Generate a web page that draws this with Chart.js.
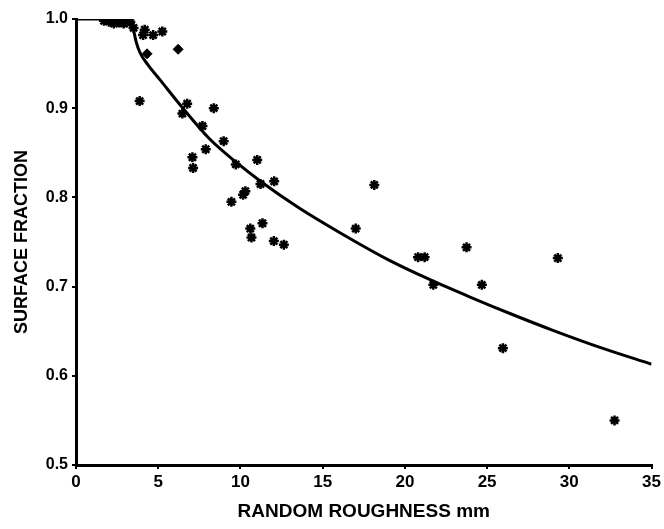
<!DOCTYPE html>
<html>
<head>
<meta charset="utf-8">
<script src="https://cdn.jsdelivr.net/npm/chart.js@4/dist/chart.umd.min.js"></script>
<style>
  html, body { margin: 0; padding: 0; background: #fff; }
  #wrap { width: 664px; height: 529px; }
</style>
</head>
<body>
<div id="wrap"><canvas id="c" width="664" height="529"></canvas></div>
<script>
// fitted curve
const curveX = [0, 3.35, 3.5, 3.65, 3.9, 4.4, 5.1, 6.5, 8.1, 9.7, 11.3, 13.5, 16, 19, 21.5, 24, 26.5, 29, 32, 35];
const curveY = [1.0, 1.0, 0.988, 0.975, 0.962, 0.948, 0.932, 0.9, 0.866, 0.84, 0.817, 0.789, 0.761, 0.73, 0.708, 0.688, 0.669, 0.651, 0.631, 0.613];

// measured points (stars)
const starX = [1.7, 2.0, 2.3, 2.6, 2.9, 3.1, 3.3, 3.5, 4.08, 4.18, 4.69, 5.25, 3.87, 6.76, 6.47, 8.38, 7.69, 8.98, 7.89, 7.08, 7.12,
  9.72, 11.02, 11.22, 12.05, 9.45, 10.16, 10.3, 10.6, 10.67, 11.34, 12.03, 12.64,
  18.14, 17.01, 20.8, 21.2, 23.75, 21.73, 24.68, 29.3, 25.96, 32.75];
const starY = [0.998, 0.997, 0.995, 0.996, 0.995, 0.996, 0.997, 0.99, 0.982, 0.988, 0.982, 0.986, 0.908, 0.905, 0.894, 0.9, 0.88, 0.863, 0.854, 0.845, 0.833,
  0.837, 0.842, 0.815, 0.818, 0.795, 0.803, 0.807, 0.765, 0.755, 0.771, 0.751, 0.747,
  0.814, 0.765, 0.733, 0.733, 0.744, 0.702, 0.702, 0.732, 0.631, 0.550];

// measured points (diamonds)
const diamondX = [4.32, 6.21];
const diamondY = [0.961, 0.966];

const xTicks = [0, 5, 10, 15, 20, 25, 30, 35];
const yTicks = [0.5, 0.6, 0.7, 0.8, 0.9, 1.0];

const zip = (xs, ys) => xs.map((x, i) => ({ x: x, y: ys[i] }));
const font = { family: '"Liberation Sans", Arial, sans-serif', weight: 'bold' };

new Chart(document.getElementById('c'), {
  type: 'scatter',
  data: {
    datasets: [
      {
        data: zip(curveX, curveY), showLine: true, borderColor: '#000', borderWidth: 3,
        pointRadius: 0, cubicInterpolationMode: 'monotone', fill: false
      },
      {
        data: zip(starX, starY), pointStyle: 'star', pointRadius: 5,
        borderColor: '#000', backgroundColor: '#000', borderWidth: 2.5
      },
      {
        data: zip(diamondX, diamondY), pointStyle: 'rectRot', pointRadius: 5,
        borderColor: '#000', backgroundColor: '#000', borderWidth: 1
      }
    ]
  },
  options: {
    responsive: false,
    animation: false,
    layout: { padding: { top: 19, right: 10, left: 0, bottom: 0 } },
    plugins: { legend: { display: false }, tooltip: { enabled: false } },
    scales: {
      x: {
        type: 'linear', min: 0, max: 35,
        afterBuildTicks: s => { s.ticks = xTicks.map(v => ({ value: v })); },
        afterFit: s => { s.height = 64; },
        border: { display: true, width: 3, color: '#000' },
        grid: { drawOnChartArea: false, drawTicks: true, tickLength: 4, color: '#000', lineWidth: 2 },
        ticks: { color: '#000', font: { ...font, size: 17 }, padding: 3, maxRotation: 0 },
        title: { display: true, text: 'RANDOM ROUGHNESS mm', color: '#000', font: { ...font, size: 19 }, padding: { top: 0, bottom: 6 } }
      },
      y: {
        type: 'linear', min: 0.5, max: 1.0,
        afterBuildTicks: s => { s.ticks = yTicks.map(v => ({ value: v })); },
        afterFit: s => { s.width = 76; },
        border: { display: true, width: 3, color: '#000' },
        grid: { drawOnChartArea: false, drawTicks: true, tickLength: 4, color: '#000', lineWidth: 2 },
        ticks: { color: '#000', font: { ...font, size: 16 }, padding: 4, callback: v => v.toFixed(1) },
        title: { display: true, text: 'SURFACE FRACTION', color: '#000', font: { ...font, size: 18 }, padding: { top: 11, bottom: 0 } }
      }
    }
  }
});
</script>
</body>
</html>
